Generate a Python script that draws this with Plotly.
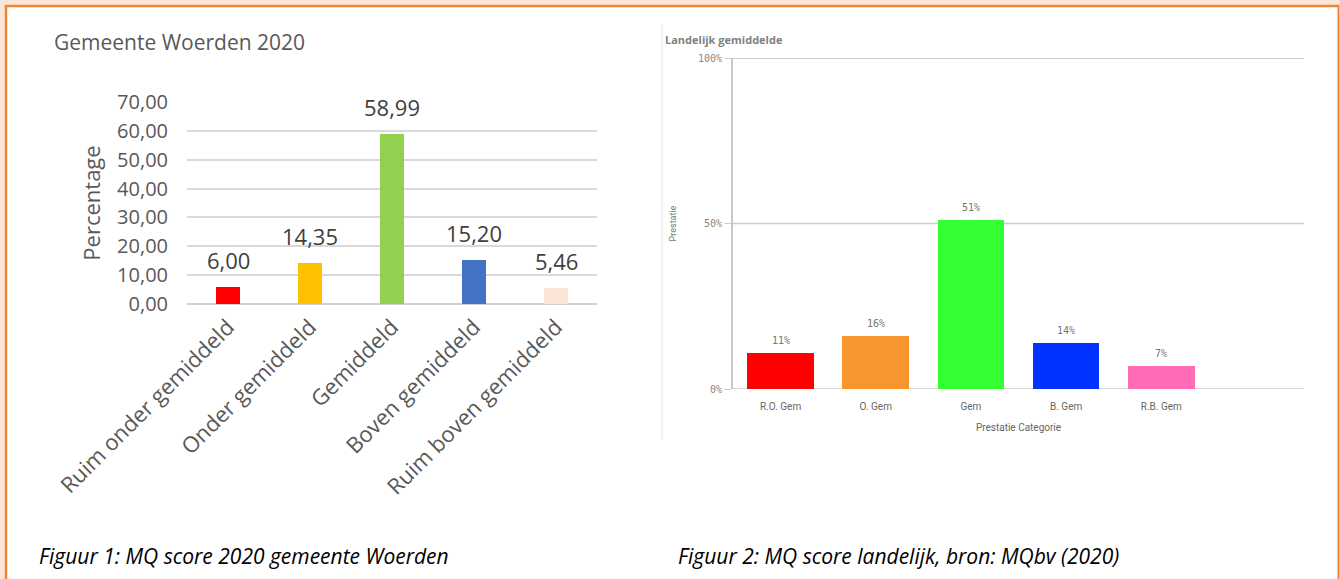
import plotly.graph_objects as go

W, H = 1340, 579

# ---- data: left chart (Gemeente Woerden 2020)
left_categories = ["Ruim onder gemiddeld", "Onder gemiddeld", "Gemiddeld",
                   "Boven gemiddeld", "Ruim boven gemiddeld"]
left_values = [6.00, 14.35, 58.99, 15.20, 5.46]
left_colors = ["#FF0000", "#FFC000", "#92D050", "#4472C4", "#FBE5D6"]
left_yticks = [0, 10, 20, 30, 40, 50, 60, 70]

# ---- data: right chart (Landelijk gemiddelde)
right_categories = ["R.O. Gem", "O. Gem", "Gem", "B. Gem", "R.B. Gem"]
right_values = [11, 16, 51, 14, 7]
right_colors = ["#FF0000", "#F8952F", "#33FF33", "#0033FF", "#FF6BB5"]
right_yticks = [0, 50, 100]
right_yticklabels = ["0%", "50%", "100%"]


def px(x):
    return x / W


def py(y):
    return 1 - y / H


fig = go.Figure()

fig.add_trace(go.Bar(
    x=left_categories, y=left_values, marker=dict(color=left_colors, line=dict(width=0)),
    width=0.3, xaxis="x", yaxis="y", hoverinfo="skip", showlegend=False))

fig.add_trace(go.Bar(
    x=right_categories, y=right_values, marker=dict(color=right_colors, line=dict(width=0)),
    width=0.7, xaxis="x2", yaxis="y2", hoverinfo="skip", showlegend=False))

annotations = []
for c, v in zip(left_categories, left_values):
    annotations.append(dict(
        x=c, y=v, xref="x", yref="y", text=f"{v:.2f}".replace(".", ","),
        showarrow=False, yanchor="bottom", yshift=10,
        font=dict(family="Open Sans", size=22, color="#404040")))
for c, v in zip(right_categories, right_values):
    annotations.append(dict(
        x=c, y=v, xref="x2", yref="y2", text=f"{v}%",
        showarrow=False, yanchor="bottom", yshift=5,
        font=dict(family="DejaVu Sans Mono", size=10, color="#777777")))

# titles and captions
annotations += [
    dict(x=px(52), y=py(42), xref="paper", yref="paper", xanchor="left", yanchor="middle",
         text="Gemeente Woerden 2020", showarrow=False,
         font=dict(family="Open Sans", size=21, color="#595959")),
    dict(x=px(663), y=py(40), xref="paper", yref="paper", xanchor="left", yanchor="middle",
         text="<b>Landelijk gemiddelde</b>", showarrow=False,
         font=dict(family="Open Sans", size=11, color="#7f7f7f")),
    dict(x=px(37), y=py(556), xref="paper", yref="paper", xanchor="left", yanchor="middle",
         text="<i>Figuur 1: MQ score 2020 gemeente Woerden</i>", showarrow=False,
         font=dict(family="Open Sans", size=21, color="#000000")),
    dict(x=px(676), y=py(556), xref="paper", yref="paper", xanchor="left", yanchor="middle",
         text="<i>Figuur 2: MQ score landelijk, bron: MQbv (2020)</i>", showarrow=False,
         font=dict(family="Open Sans", size=21, color="#000000")),
]

shapes = [
    # peach surround strips
    dict(type="rect", xref="paper", yref="paper", x0=0, x1=1, y0=py(5), y1=1,
         fillcolor="#FBE5D6", line=dict(width=0), layer="below"),
    dict(type="rect", xref="paper", yref="paper", x0=0, x1=px(5), y0=0, y1=1,
         fillcolor="#FBE5D6", line=dict(width=0), layer="below"),
    # orange frame
    dict(type="line", xref="paper", yref="paper", x0=px(5), x1=px(1339), y0=py(6), y1=py(6),
         line=dict(color="#F0823A", width=2.5)),
    dict(type="line", xref="paper", yref="paper", x0=px(6), x1=px(6), y0=0, y1=py(5),
         line=dict(color="#F0823A", width=2.5)),
    dict(type="line", xref="paper", yref="paper", x0=px(1338.5), x1=px(1338.5), y0=0, y1=py(5),
         line=dict(color="#F0823A", width=2)),
    # light frame line of the right picture
    dict(type="line", xref="paper", yref="paper", x0=px(662), x1=px(662), y0=py(440), y1=py(24),
         line=dict(color="#e3e3e3", width=1)),
]
# gridlines of the right chart (including the range ends), via its own y scale
for t in right_yticks:
    shapes.append(dict(type="line", xref="x2 domain", yref="y2", x0=0, x1=1, y0=t, y1=t,
                       line=dict(color="#cccccc", width=2 if t == 100 else 1.5), layer="below"))

fig.update_layout(
    width=W, height=H, margin=dict(l=0, r=0, t=0, b=0, autoexpand=False),
    paper_bgcolor="white", plot_bgcolor="rgba(0,0,0,0)",
    separators=",.", bargap=0, showlegend=False,
    annotations=annotations, shapes=shapes,
    xaxis=dict(domain=[px(187), px(597)], range=[-0.5, 4.5], type="category",
               showgrid=False, showline=False, zeroline=False, tickangle=-45,
               ticks="", ticklabelstandoff=5, automargin=False,
               tickfont=dict(family="Open Sans", size=22, color="#595959"),
               anchor="y", fixedrange=True),
    yaxis=dict(domain=[py(304), py(102)], range=[0, 70], tickvals=left_yticks,
               tickformat=".2f", showgrid=True, gridcolor="#d9d9d9", gridwidth=1.5,
               zeroline=True, zerolinecolor="#d0d0d0", zerolinewidth=1.5,
               showline=False, ticks="", ticklabelstandoff=18, automargin=False,
               tickfont=dict(family="Open Sans", size=20, color="#595959"),
               title=dict(text="Percentage", standoff=10,
                          font=dict(family="Open Sans", size=22, color="#595959")),
               anchor="x", fixedrange=True),
    xaxis2=dict(domain=[px(733), px(1304)], range=[-0.5, 5.5], type="category",
                showgrid=False, showline=False, zeroline=False, ticks="",
                ticklabelstandoff=10, automargin=False,
                tickfont=dict(family="Roboto", size=10, color="#666666"),
                title=dict(text="Prestatie Categorie", standoff=12,
                           font=dict(family="Roboto", size=10, color="#666666")),
                anchor="y2", fixedrange=True),
    yaxis2=dict(domain=[py(389), py(58)], range=[0, 100], tickvals=right_yticks,
                ticktext=right_yticklabels, showgrid=False,
                zeroline=False, showline=True, linecolor="#c8c8c8", linewidth=2,
                ticks="outside", ticklen=7, tickcolor="#d0d0d0", tickwidth=1,
                automargin=False,
                tickfont=dict(family="DejaVu Sans Mono", size=10, color="#888888"),
                title=dict(text="Prestatie", standoff=20,
                           font=dict(family="Roboto", size=9, color="#777777")),
                anchor="x2", fixedrange=True),
)

fig.write_html("out.html", config={"displayModeBar": False})
